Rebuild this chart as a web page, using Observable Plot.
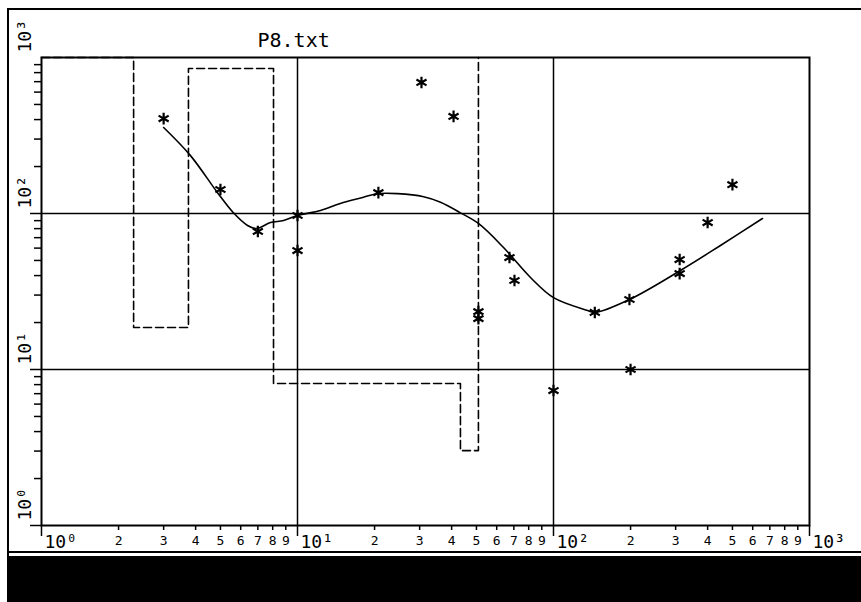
<!DOCTYPE html>
<html>
<head>
<meta charset="utf-8">
<script src="https://cdn.jsdelivr.net/npm/d3@7"></script>
<script src="https://cdn.jsdelivr.net/npm/@observablehq/plot@0.6"></script>
<style>
  body { margin: 0; background: #fff; }
</style>
</head>
<body>
<div id="chart"></div>
<script>
// Sounding P8: measured apparent resistivity, fitted curve and layered model (log–log)
const title = "P8.txt";

// measured points
const obsX = [3, 5, 7, 10, 10, 20.7, 30.5, 40.7, 50.9, 50.9, 67.3, 70.4, 100, 145, 198, 200, 311, 311, 400, 500];
const obsY = [406, 142.5, 76.7, 97.1, 57.9, 136, 692, 419, 23.5, 21.2, 52.2, 37.2, 7.33, 23.2, 28.1, 10, 50.7, 41.2, 87.5, 153];

// fitted response curve
const fitX = [3.0, 3.82, 4.87, 5.62, 6.38, 6.92, 7.84, 8.82, 10, 12.3, 14.7, 18.1, 20.5, 24.6, 31.1, 36.2, 43.3, 50.9, 63.8, 81.3, 100, 136, 145, 198, 313, 449, 655];
const fitY = [356, 235, 136, 101, 83.8, 80.1, 87.5, 90.2, 97.1, 104.5, 116, 127, 134, 134, 128, 118, 101, 86.3, 60.5, 38.9, 28.9, 23.9, 23.2, 28.1, 43.1, 62.4, 92.9];

// layered model: layer tops and resistivities
const layerTop = [1, 2.29, 3.75, 8.06, 43.3, 50.9];
const layerRho = [1000, 18.6, 850, 8.13, 3.02, 1000];

// axis ticks and labels
const majorTicks = [1, 10, 100, 1000];
const majorLabels = ["10⁰", "10¹", "10²", "10³"];
const minorTicks = [2, 3, 4, 5, 6, 7, 8, 9,
                    20, 30, 40, 50, 60, 70, 80, 90,
                    200, 300, 400, 500, 600, 700, 800, 900];
const minorLabels = ["2", "3", "4", "5", "6", "7", "8", "9",
                     "2", "3", "4", "5", "6", "7", "8", "9",
                     "2", "3", "4", "5", "6", "7", "8", "9"];

const obs = obsX.map((x, i) => ({x, y: obsY[i]}));
const fit = fitX.map((x, i) => ({x, y: fitY[i]}));
const model = layerTop.map((x, i) => ({x, y: layerRho[i]}));

const font = "DejaVu Sans Mono";

const chart = Plot.plot({
  width: 861,
  height: 602,
  marginLeft: 41,
  marginRight: 52,
  marginTop: 57,
  marginBottom: 77,
  style: {background: "white", fontFamily: font, color: "black"},
  x: {type: "log", domain: [1, 1000], axis: null},
  y: {type: "log", domain: [1, 1000], axis: null},
  marks: [
    Plot.ruleY([10, 100], {stroke: "black", strokeWidth: 1.5}),
    Plot.ruleX([10, 100], {stroke: "black", strokeWidth: 1.5}),
    Plot.frame({stroke: "black", strokeWidth: 2}),
    // tick marks only; labels are drawn as text below
    Plot.axisY({ticks: [1, 10, 100], tickSize: 11, tickFormat: () => "", label: null, strokeWidth: 1.5}),
    Plot.axisY({ticks: minorTicks, tickSize: 7, tickFormat: () => "", label: null, strokeWidth: 1.5}),
    Plot.axisX({ticks: majorTicks, tickSize: 11, tickFormat: () => "", label: null, strokeWidth: 1.5}),
    Plot.axisX({ticks: minorTicks, tickSize: 5, tickFormat: () => "", label: null, strokeWidth: 1.5}),
    Plot.text(minorTicks, {x: (d) => d, frameAnchor: "bottom", dy: 15,
      lineAnchor: "middle", text: (d, i) => minorLabels[i], fontSize: 13}),
    Plot.text(majorTicks, {x: (d) => d, frameAnchor: "bottom", dy: 17, dx: 3,
      textAnchor: "start", lineAnchor: "middle", text: (d, i) => majorLabels[i], fontSize: 18}),
    Plot.text(majorTicks, {y: (d) => d, frameAnchor: "left", dx: -16, dy: -5, rotate: -90,
      textAnchor: "start", lineAnchor: "middle", text: (d, i) => majorLabels[i], fontSize: 18}),
    Plot.line(model, {x: "x", y: "y", curve: "step-after", stroke: "black",
      strokeWidth: 1.6, strokeDasharray: "8,4"}),
    Plot.line(fit, {x: "x", y: "y", curve: "catmull-rom", stroke: "black", strokeWidth: 1.6}),
    Plot.dot(obs, {x: "x", y: "y", symbol: "asterisk", r: 5.5, stroke: "black", strokeWidth: 2.2}),
    Plot.text([title], {frameAnchor: "top-left", dx: 216, dy: -11, textAnchor: "start",
      lineAnchor: "bottom", fontSize: 20})
  ]
});

// outer sheet border and footer band
const svg = d3.select(chart);
const deco = svg.append("g").attr("stroke", "black");
deco.append("line").attr("x1", 8).attr("x2", 861).attr("y1", 9).attr("y2", 9).attr("stroke-width", 2);
deco.append("line").attr("x1", 8).attr("x2", 8).attr("y1", 8).attr("y2", 602).attr("stroke-width", 2);
deco.append("line").attr("x1", 8).attr("x2", 861).attr("y1", 552).attr("y2", 552).attr("stroke-width", 2);
deco.append("rect").attr("x", 8).attr("y", 556).attr("width", 853).attr("height", 46)
  .attr("fill", "black").attr("stroke", "none");

document.getElementById("chart").appendChild(chart);
</script>
</body>
</html>
